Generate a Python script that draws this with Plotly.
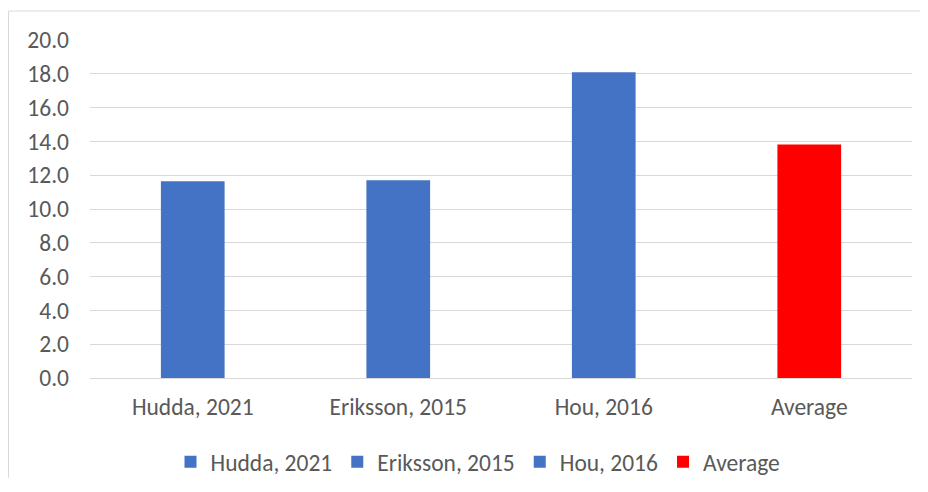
import plotly.graph_objects as go

categories = ["Hudda, 2021", "Eriksson, 2015", "Hou, 2016", "Average"]
values = [11.64, 11.70, 18.09, 13.81]
colors = ["#4472C4", "#4472C4", "#4472C4", "#FF0000"]
y_ticks = [0, 2, 4, 6, 8, 10, 12, 14, 16, 18, 20]

FONT = "Carlito, Liberation Sans, Arial, sans-serif"
TXT = "#595959"
FS = 23.5

fig = go.Figure()
for cat, val, col in zip(categories, values, colors):
    fig.add_trace(go.Bar(x=[cat], y=[val], name=cat, marker=dict(color=col, line=dict(width=0)),
                         width=0.31))

# page body has an 8px margin, so the figure is drawn at (8, 8); keep it inside the window
W, H = 912, 470
L, R, T, B = 82, 8, 31.5, 100
fig.update_layout(
    width=W, height=H,
    margin=dict(l=L, r=R, t=T, b=B, pad=0, autoexpand=False),
    barmode="overlay",
    paper_bgcolor="white", plot_bgcolor="white",
    font=dict(family=FONT, size=FS, color=TXT),
    showlegend=True,
    legend=dict(orientation="h", x=(470 - L) / (W - L - R), xanchor="center",
                y=(H - B - 454) / (H - T - B), yanchor="middle",
                font=dict(size=FS, color=TXT), traceorder="normal", itemwidth=30),
    xaxis=dict(categoryorder="array", categoryarray=categories, showgrid=False,
               showline=False, ticks="", ticklabelstandoff=12, automargin=False,
               tickfont=dict(size=FS, color=TXT)),
    yaxis=dict(range=[0, 20], tickvals=y_ticks, tickformat=".1f", showgrid=True,
               gridcolor="#d9d9d9", gridwidth=1, zeroline=True, zerolinecolor="#d9d9d9",
               zerolinewidth=1, showline=False, ticks="", ticklabelstandoff=20,
               automargin=False, tickfont=dict(size=FS, color=TXT)),
)

pw = W - L - R
ph = H - T - B
def px(x):
    return (x - L) / pw
def py(y):
    return (H - B - y) / ph

# chart-area border: only the top and left edges fall inside the picture
fig.add_shape(type="line", xref="paper", yref="paper",
              x0=px(0.5), x1=px(W), y0=py(2.5), y1=py(2.5),
              line=dict(color="#d9d9d9", width=1), layer="below")
fig.add_shape(type="line", xref="paper", yref="paper",
              x0=px(0.5), x1=px(0.5), y0=py(2.5), y1=py(H),
              line=dict(color="#d9d9d9", width=1), layer="below")

fig.write_html("out.html")
